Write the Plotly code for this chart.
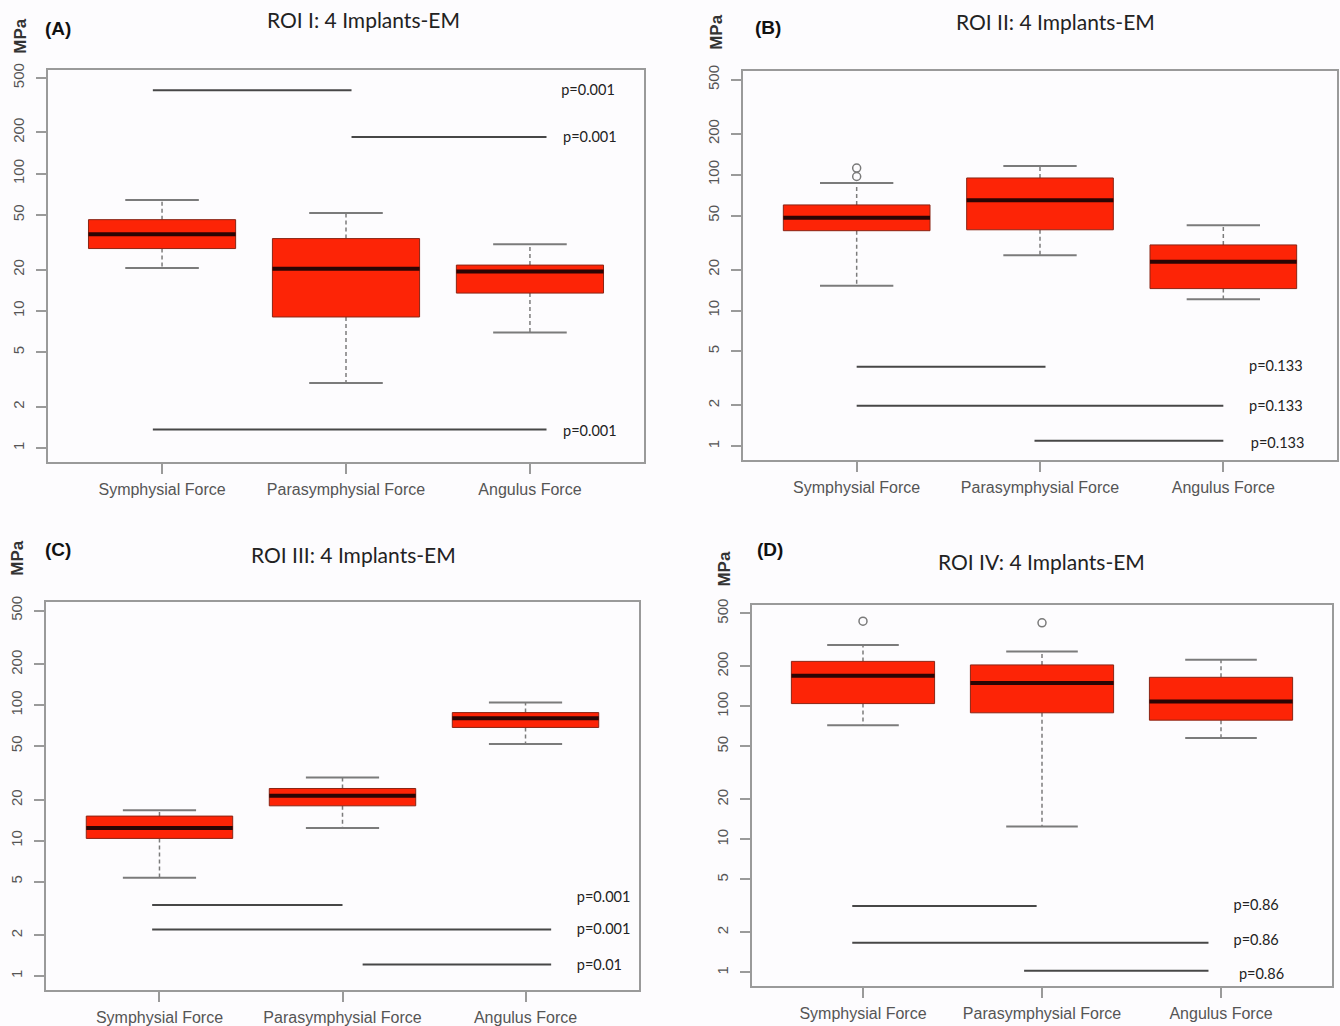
import plotly.graph_objects as go

# ---------------- data ----------------
categories = ["Symphysial Force", "Parasymphysial Force", "Angulus Force"]
cat_pos = [1, 2, 3]
ytick_vals = [1, 2, 5, 10, 20, 50, 100, 200, 500]
ytick_text = ["1", "2", "5", "10", "20", "50", "100", "200", "500"]

panel_titles = ["ROI I: 4 Implants-EM", "ROI II: 4 Implants-EM",
                "ROI III: 4 Implants-EM", "ROI IV: 4 Implants-EM"]
panel_letters = ["(A)", "(B)", "(C)", "(D)"]

# ROI I
a_lower = [20.6, 2.98, 6.96]
a_q1 = [28.5, 9.04, 13.5]
a_med = [36.3, 20.3, 19.4]
a_q3 = [46.3, 33.7, 21.6]
a_upper = [64.4, 51.8, 30.7]
a_outliers = [[], [], []]
a_sig_start = [0.95, 2.03, 0.95]
a_sig_end = [2.03, 3.09, 3.09]
a_sig_y = [407, 185, 1.37]
a_p_text = ["p=0.001", "p=0.001", "p=0.001"]
a_p_x = [3.17, 3.18, 3.18]
a_p_y = [401, 180, 1.31]

# ROI II
b_lower = [15.2, 25.5, 12.1]
b_q1 = [38.7, 39.3, 14.5]
b_med = [48.2, 64.9, 22.9]
b_q3 = [59.9, 94.6, 30.4]
b_upper = [86.9, 115.7, 42.5]
b_outliers = [[97.0, 112.0], [], []]
b_sig_start = [1.0, 1.0, 1.97]
b_sig_end = [2.03, 3.0, 3.0]
b_sig_y = [3.85, 1.99, 1.10]
b_p_text = ["p=0.133", "p=0.133", "p=0.133"]
b_p_x = [3.14, 3.14, 3.15]
b_p_y = [3.78, 1.92, 1.04]

# ROI III
c_lower = [5.32, 12.4, 51.8]
c_q1 = [10.4, 18.1, 68.6]
c_med = [12.4, 21.5, 80.3]
c_q3 = [15.2, 24.3, 88.3]
c_upper = [16.8, 29.3, 104.6]
c_outliers = [[], [], []]
c_sig_start = [0.96, 0.96, 2.11]
c_sig_end = [2.0, 3.14, 3.14]
c_sig_y = [3.36, 2.21, 1.22]
c_p_text = ["p=0.001", "p=0.001", "p=0.01"]
c_p_x = [3.28, 3.28, 3.28]
c_p_y = [3.78, 2.17, 1.18]

# ROI IV
d_lower = [72.3, 12.5, 57.8]
d_q1 = [105, 89.5, 78.8]
d_med = [170, 150, 108.7]
d_q3 = [218, 205, 165.5]
d_upper = [289, 259, 224]
d_outliers = [[437], [425], []]
d_sig_start = [0.94, 0.94, 1.90]
d_sig_end = [1.97, 2.93, 2.93]
d_sig_y = [3.16, 1.67, 1.03]
d_p_text = ["p=0.86", "p=0.86", "p=0.86"]
d_p_x = [3.07, 3.07, 3.10]
d_p_y = [3.16, 1.70, 0.95]

panels = [
    (a_lower, a_q1, a_med, a_q3, a_upper, a_outliers, a_sig_start, a_sig_end, a_sig_y, a_p_text, a_p_x, a_p_y),
    (b_lower, b_q1, b_med, b_q3, b_upper, b_outliers, b_sig_start, b_sig_end, b_sig_y, b_p_text, b_p_x, b_p_y),
    (c_lower, c_q1, c_med, c_q3, c_upper, c_outliers, c_sig_start, c_sig_end, c_sig_y, c_p_text, c_p_x, c_p_y),
    (d_lower, d_q1, d_med, d_q3, d_upper, d_outliers, d_sig_start, d_sig_end, d_sig_y, d_p_text, d_p_x, d_p_y),
]

# ---------------- layout geometry (pixels in 1340x1026) ----------------
W, H = 1340, 1026
frames = [(48, 644, 63, 459), (743, 1337, 65, 457), (46, 639, 600, 991), (752, 1332, 603, 987)]
title_pos = [(363, 13), (1055, 15), (353, 552), (1041, 559)]
letter_pos = [(43, 22), (753, 21), (43, 547), (755, 547)]
mpa_pos = [(21, 29), (717, 25), (18, 555), (725, 566)]

BOX_HALF = 0.4
CAP_HALF = 0.2
RED = "#fd2406"
BORDER = "#8a2414"
MEDIAN = "#2a0504"
WHISK = "#7b7b7b"
SIG = "#474747"
AXIS = "#9a9a9a"
TICKFONT = "#555555"

fig = go.Figure()

for k, (lo, q1, md, q3, up, outl, s0, s1, sy, ptxt, px, py) in enumerate(panels):
    xa = "x" if k == 0 else f"x{k+1}"
    ya = "y" if k == 0 else f"y{k+1}"
    for i, c in enumerate(cat_pos):
        # whiskers (dashed)
        fig.add_trace(go.Scatter(x=[c, c, None, c, c], y=[q3[i], up[i], None, q1[i], lo[i]],
                                 mode="lines", line=dict(color=WHISK, width=1.5, dash="4px,3px"),
                                 xaxis=xa, yaxis=ya, showlegend=False, hoverinfo="skip"))
        # caps
        fig.add_trace(go.Scatter(x=[c - CAP_HALF, c + CAP_HALF, None, c - CAP_HALF, c + CAP_HALF],
                                 y=[up[i], up[i], None, lo[i], lo[i]],
                                 mode="lines", line=dict(color=WHISK, width=2),
                                 xaxis=xa, yaxis=ya, showlegend=False, hoverinfo="skip"))
        # box body
        fig.add_trace(go.Scatter(x=[c - BOX_HALF, c + BOX_HALF, c + BOX_HALF, c - BOX_HALF, c - BOX_HALF],
                                 y=[q1[i], q1[i], q3[i], q3[i], q1[i]],
                                 mode="lines", fill="toself", fillcolor=RED,
                                 line=dict(color=BORDER, width=1),
                                 xaxis=xa, yaxis=ya, showlegend=False, hoverinfo="skip"))
        # median
        fig.add_trace(go.Scatter(x=[c - BOX_HALF, c + BOX_HALF], y=[md[i], md[i]],
                                 mode="lines", line=dict(color=MEDIAN, width=4),
                                 xaxis=xa, yaxis=ya, showlegend=False, hoverinfo="skip"))
        # outliers
        if outl[i]:
            fig.add_trace(go.Scatter(x=[c] * len(outl[i]), y=outl[i], mode="markers",
                                     marker=dict(symbol="circle-open", size=8, color="#7a7a7a",
                                                 line=dict(width=1.5)),
                                     xaxis=xa, yaxis=ya, showlegend=False, hoverinfo="skip"))
    # significance lines
    for j in range(len(sy)):
        fig.add_trace(go.Scatter(x=[s0[j], s1[j]], y=[sy[j], sy[j]], mode="lines",
                                 line=dict(color=SIG, width=2),
                                 xaxis=xa, yaxis=ya, showlegend=False, hoverinfo="skip"))
    # p-value labels
    fig.add_trace(go.Scatter(x=px, y=py, mode="text", text=ptxt, textposition="middle right",
                             textfont=dict(family="Lato, Open Sans, sans-serif", size=14.5, color="#222222"),
                             xaxis=xa, yaxis=ya, showlegend=False, hoverinfo="skip", cliponaxis=False))

layout = dict(width=W, height=H, margin=dict(l=0, r=0, t=0, b=0),
              paper_bgcolor="#fdfcfe", plot_bgcolor="#fdfcfe", showlegend=False)

annotations = []
for k, (x0, x1, y0, y1) in enumerate(frames):
    sfx = "" if k == 0 else str(k + 1)
    layout["xaxis" + sfx] = dict(
        domain=[x0 / W, x1 / W], range=[0.38, 3.62], anchor="y" + sfx,
        tickmode="array", tickvals=cat_pos, ticktext=categories,
        ticks="outside", ticklen=10, tickcolor=AXIS, tickwidth=1.5,
        showline=True, mirror=True, linecolor=AXIS, linewidth=1.5,
        showgrid=False, zeroline=False, ticklabelstandoff=2,
        tickfont=dict(family="Liberation Sans, Arial, sans-serif", size=16, color=TICKFONT))
    layout["yaxis" + sfx] = dict(
        domain=[1 - y1 / H, 1 - y0 / H], type="log", range=[-0.104, 2.76], anchor="x" + sfx,
        tickmode="array", tickvals=ytick_vals, ticktext=ytick_text, tickangle=-90,
        ticks="outside", ticklen=10, tickcolor=AXIS, tickwidth=1.5,
        showline=True, mirror=True, linecolor=AXIS, linewidth=1.5,
        showgrid=False, zeroline=False, ticklabelstandoff=6,
        tickfont=dict(family="Liberation Sans, Arial, sans-serif", size=15, color=TICKFONT))
    tx, ty = title_pos[k]
    annotations.append(dict(text=panel_titles[k], x=tx / W, y=1 - ty / H, xref="paper", yref="paper",
                            xanchor="center", yanchor="middle", showarrow=False,
                            font=dict(family="Lato, Open Sans, sans-serif", size=21, color="#222222")))
    lx, ly = letter_pos[k]
    annotations.append(dict(text="<b>" + panel_letters[k] + "</b>", x=lx / W, y=1 - ly / H,
                            xref="paper", yref="paper", xanchor="left", yanchor="middle",
                            showarrow=False,
                            font=dict(family="Liberation Sans, Arial, sans-serif", size=19, color="#111111")))
    mx, my = mpa_pos[k]
    annotations.append(dict(text="<b>MPa</b>", x=mx / W, y=1 - my / H, xref="paper", yref="paper",
                            xanchor="center", yanchor="middle", textangle=-90, showarrow=False,
                            font=dict(family="Liberation Sans, Arial, sans-serif", size=17, color="#333333")))

layout["annotations"] = annotations
fig.update_layout(**layout)
fig.write_html(
    "out.html",
    config={"displayModeBar": False},
    post_script=("document.body.style.margin='0px';document.body.style.overflow='hidden';"
                 "var gd=document.getElementById('{plot_id}');"
                 "gd.style.position='fixed';gd.style.top='0px';gd.style.left='0px';"),
)
